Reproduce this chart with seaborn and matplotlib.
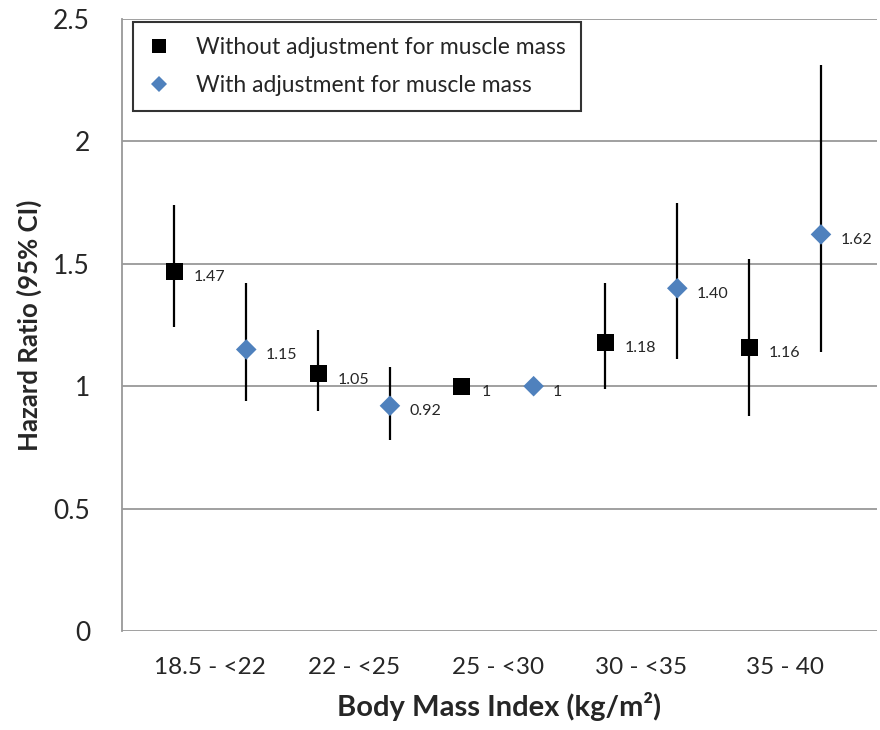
import numpy as np
import pandas as pd
import seaborn as sns
import matplotlib.pyplot as plt

# data
categories = ["18.5 - <22", "22 - <25", "25 - <30", "30 - <35", "35 - 40"]
hr_unadj = [1.47, 1.05, 1.00, 1.18, 1.16]
lo_unadj = [1.24, 0.90, 1.00, 0.99, 0.88]
hi_unadj = [1.74, 1.23, 1.00, 1.42, 1.52]
lbl_unadj = ["1.47", "1.05", "1", "1.18", "1.16"]
hr_adj = [1.15, 0.92, 1.00, 1.40, 1.62]
lo_adj = [0.94, 0.78, 1.00, 1.11, 1.14]
hi_adj = [1.42, 1.08, 1.00, 1.75, 2.31]
lbl_adj = ["1.15", "0.92", "1", "1.40", "1.62"]

s_unadj = "Without adjustment for muscle mass"
s_adj = "With adjustment for muscle mass"

pos = np.arange(len(categories))
df = pd.concat([
    pd.DataFrame({"x": pos - 0.25, "hr": hr_unadj, "lo": lo_unadj, "hi": hi_unadj,
                  "lbl": lbl_unadj, "Series": s_unadj}),
    pd.DataFrame({"x": pos + 0.25, "hr": hr_adj, "lo": lo_adj, "hi": hi_adj,
                  "lbl": lbl_adj, "Series": s_adj}),
], ignore_index=True)

sns.set_theme(style="white")
plt.rcParams["font.family"] = ["Lato", "DejaVu Sans"]

fig = plt.figure(figsize=(8.8, 7.3), dpi=100)
ax = fig.add_axes([0.1386, 0.1356, 0.858, 0.8384])

# CI lines first so markers sit on top
ax.vlines(df["x"], df["lo"], df["hi"], color="black", lw=1.6, zorder=2)

sns.scatterplot(data=df, x="x", y="hr", hue="Series", style="Series", size="Series",
                palette={s_unadj: "black", s_adj: "#4F81BD"},
                markers={s_unadj: "s", s_adj: "D"},
                sizes={s_unadj: 150, s_adj: 110},
                linewidth=0, ax=ax, zorder=3)

for _, r in df.iterrows():
    ax.annotate(r["lbl"], (r["x"], r["hr"]), xytext=(14, -4), textcoords="offset points",
                fontsize=11.5, va="center", ha="left")

ax.set_xlim(-0.615, 4.64)
ax.set_ylim(0, 2.5)
ax.set_yticks([0, 0.5, 1, 1.5, 2, 2.5])
ax.set_yticklabels(["0", "0.5", "1", "1.5", "2", "2.5"], fontsize=19)
ax.set_xticks(pos)
ax.set_xticklabels(categories, fontsize=17.5)
ax.tick_params(axis="x", length=0, pad=19)
ax.tick_params(axis="y", length=0, pad=23)
ax.yaxis.grid(True, color="#999999", lw=1.3)
ax.set_axisbelow(True)
for sp in ["top", "right", "bottom"]:
    ax.spines[sp].set_visible(False)
ax.spines["left"].set_color("#999999")
ax.spines["left"].set_linewidth(1.3)

ax.set_xlabel("Body Mass Index (kg/m²)", fontsize=21, fontweight="bold", labelpad=10)
ax.set_ylabel("Hazard Ratio (95% CI)", fontsize=18.5, fontweight="bold", labelpad=8)

leg = ax.legend(loc="upper left", bbox_to_anchor=(0.0146, 0.995), borderaxespad=0,
                fontsize=16.5, frameon=True, fancybox=False, edgecolor="black",
                borderpad=0.65, labelspacing=0.75, handlelength=1.0,
                handletextpad=1.1, markerscale=0.8)
leg.get_frame().set_linewidth(1.5)

fig.savefig("out.png", dpi=100)
